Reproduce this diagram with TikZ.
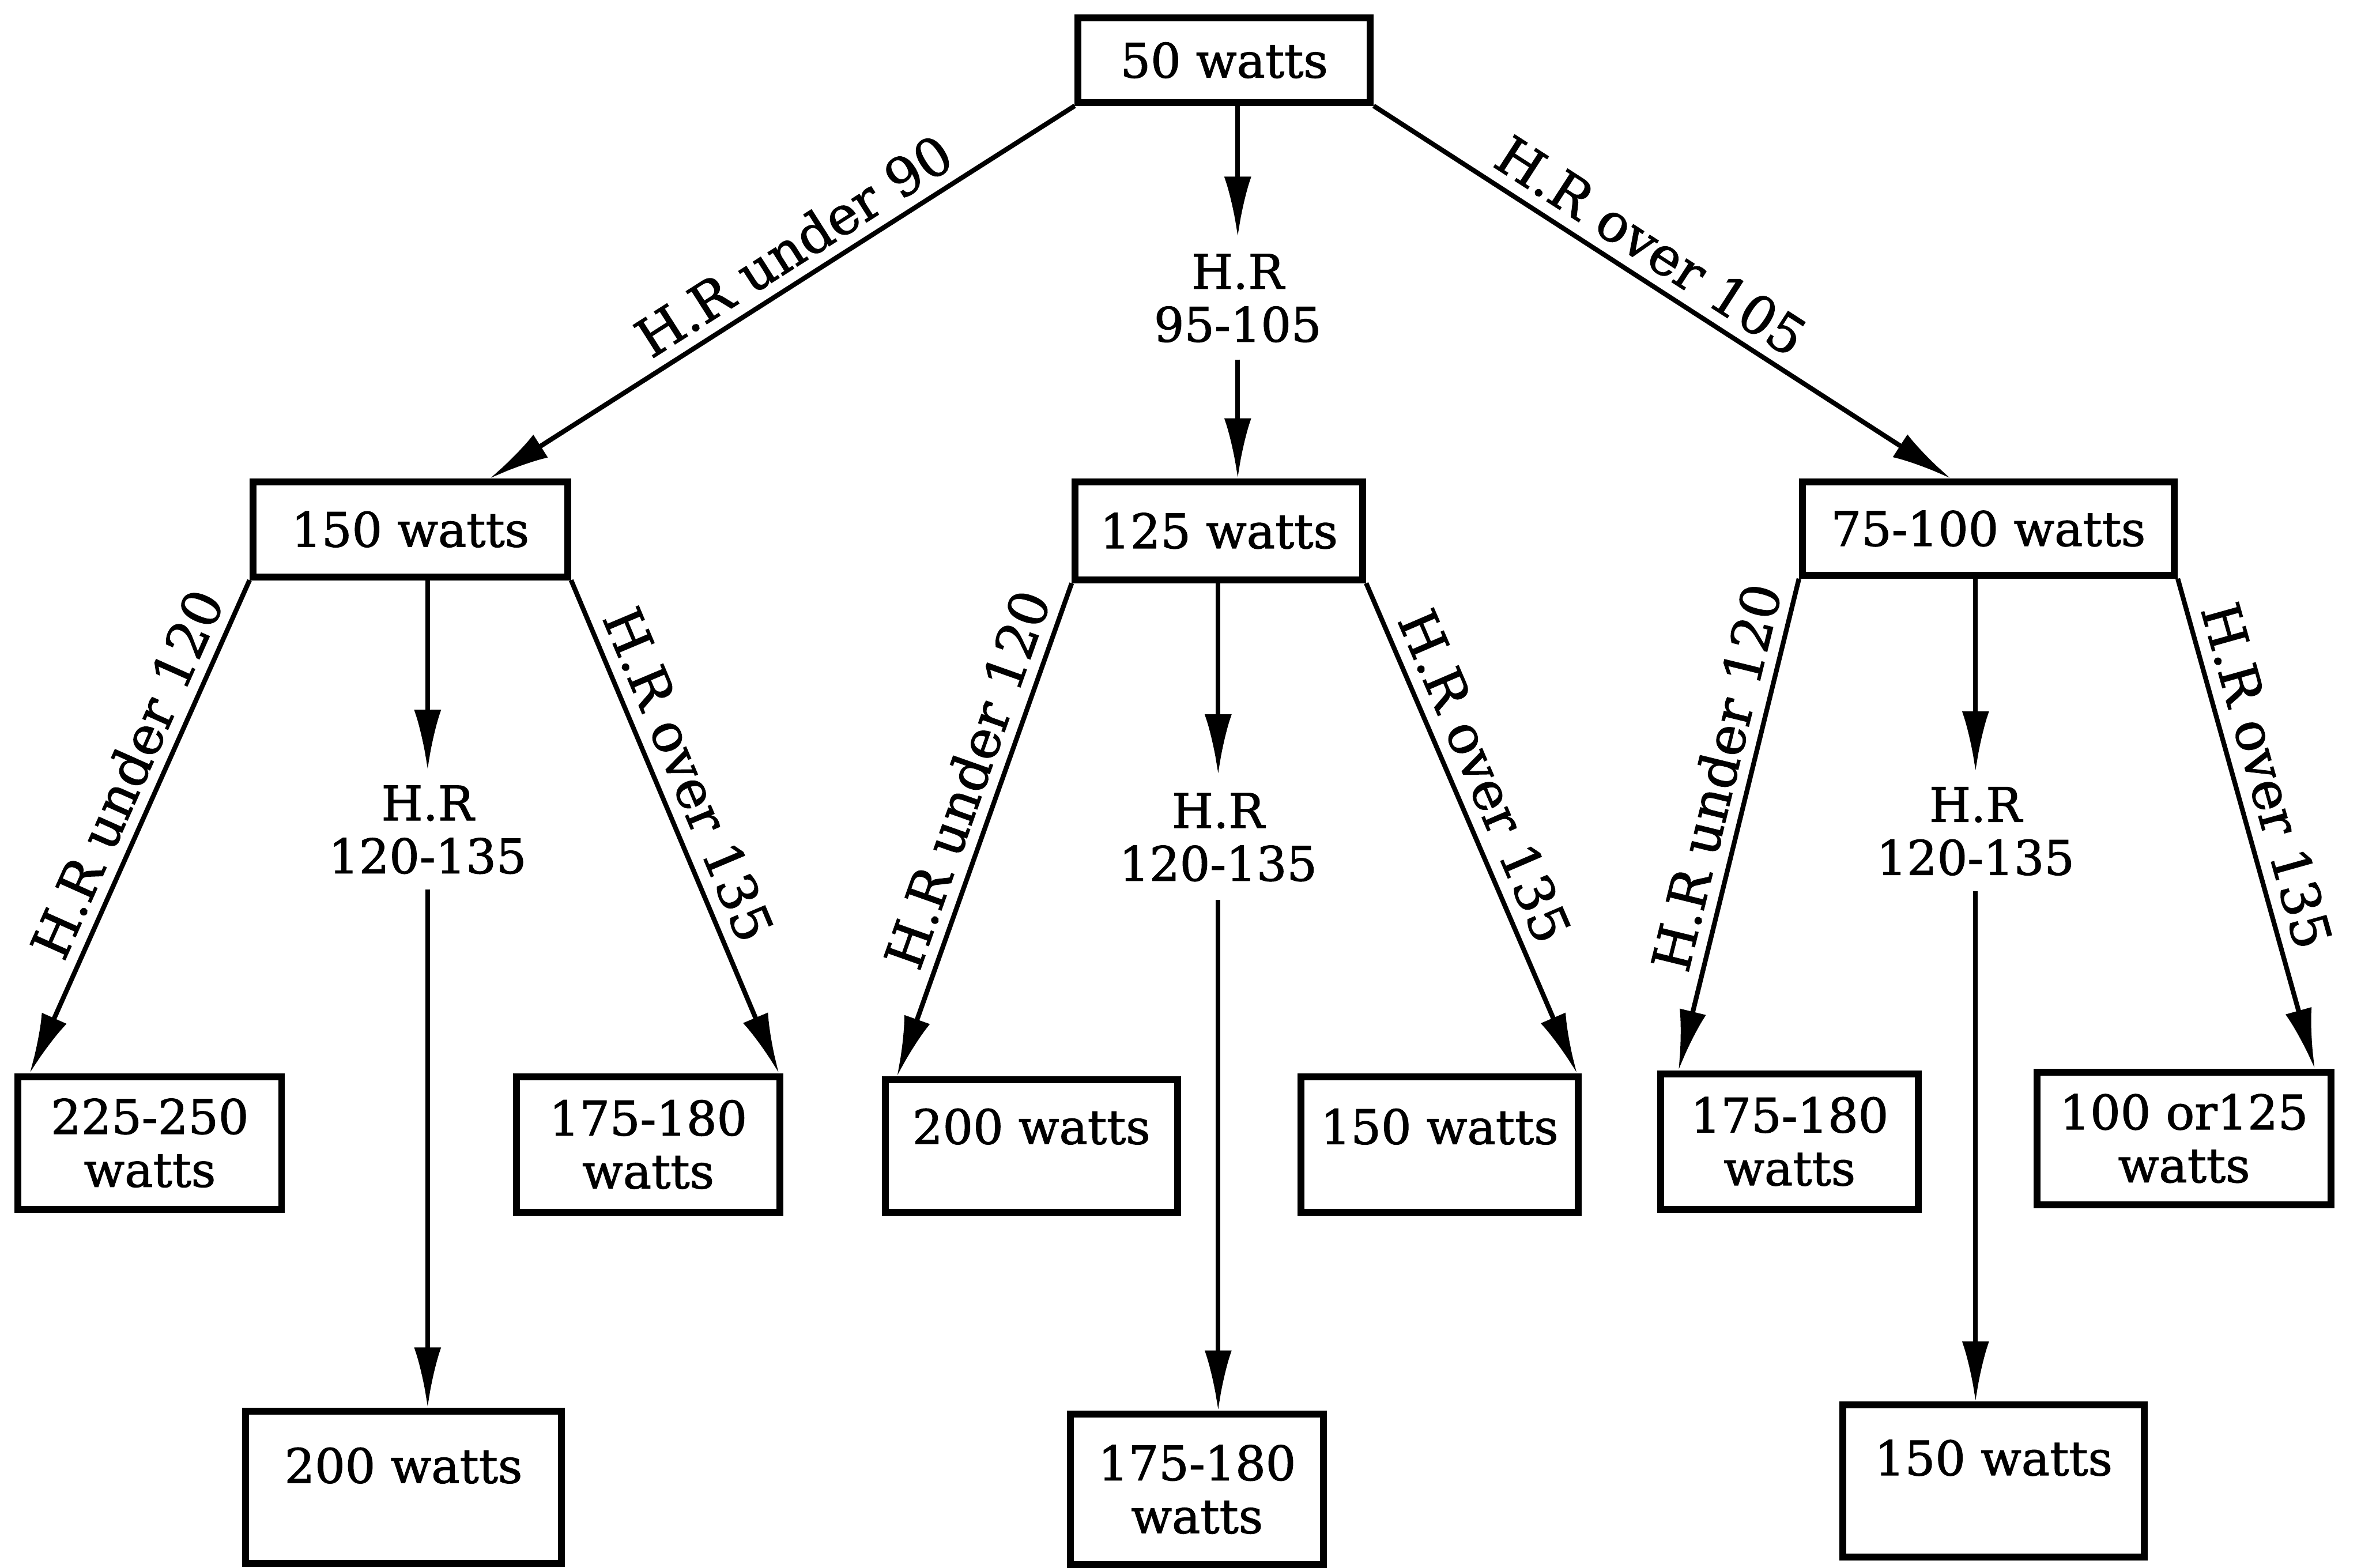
\documentclass[tikz,border=0pt]{standalone}
\usepackage{fontspec}
\setmainfont{DejaVu Serif}
\newfontfamily\heavyfont{DejaVu Serif}[FakeBold=1.4]
\usetikzlibrary{arrows.meta}
\tikzset{
  wbox/.style={draw, line width=1.3pt, align=center, inner sep=0pt, font=\heavyfont\fontsize{9}{10}\selectfont},
  bsize/.style 2 args={minimum width=#1cm, minimum height=#2cm},
  lift/.style={text height=6.6pt, text depth=#1},
  hrlab/.style={align=center, inner sep=0pt, font=\heavyfont\fontsize{9}{10}\selectfont},
  arr/.style={line width=0.9pt, -{Latex[length=4mm,width=1.8mm]}},
  slab/.style={sloped, above, pos=0.42, inner sep=2pt, font=\heavyfont\fontsize{10}{11}\selectfont}
}
\begin{document}
\begin{tikzpicture}
\useasboundingbox (0,0) rectangle (15.68,-10.41);
\node[wbox, bsize={1.94}{0.56}] (root) at (8.13,-0.40) {50 watts};
\node[wbox, bsize={2.09}{0.63}] (w150) at (2.725,-3.515) {150 watts};
\node[wbox, bsize={1.91}{0.65}] (w125) at (8.095,-3.525) {125 watts};
\node[wbox, bsize={2.47}{0.62}] (w75) at (13.205,-3.51) {75-100 watts};
\node[wbox, bsize={1.75}{0.88}] (w225) at (0.995,-7.59) {225-250\\watts};
\node[wbox, bsize={1.75}{0.90}] (w175a) at (4.305,-7.60) {175-180\\watts};
\node[wbox, bsize={1.94}{0.88}, lift=7.4pt] (w200a) at (6.85,-7.61) {200 watts};
\node[wbox, bsize={1.84}{0.90}, lift=6.8pt] (w150b) at (9.56,-7.60) {150 watts};
\node[wbox, bsize={1.71}{0.90}] (w175b) at (11.885,-7.58) {175-180\\watts};
\node[wbox, bsize={1.95}{0.88}] (w100) at (14.505,-7.56) {100 or125\\watts};
\node[wbox, bsize={2.10}{1.01}, lift=8.2pt] (w200b) at (2.68,-9.875) {200 watts};
\node[wbox, bsize={1.68}{1.00}] (w175c) at (7.95,-9.89) {175-180\\watts};
\node[wbox, bsize={2.00}{1.01}, lift=8.8pt] (w150c) at (13.24,-9.835) {150 watts};

\node[hrlab, minimum height=0.80cm] (hr1) at (8.22,-1.98) {H.R\\95-105};
\node[hrlab, minimum height=0.78cm] (hr2) at (2.84,-5.51) {H.R\\120-135};
\node[hrlab, minimum height=0.82cm] (hr3) at (8.09,-5.56) {H.R\\120-135};
\node[hrlab, minimum height=0.78cm] (hr4) at (13.12,-5.52) {H.R\\120-135};

\draw[arr] (hr1 |- root.south) -- (hr1.north);
\draw[arr] (hr1.south) -- (hr1 |- w125.north);
\draw[arr] (hr2 |- w150.south) -- (hr2.north);
\draw[arr] (hr2.south) -- (hr2 |- w200b.north);
\draw[arr] (hr3 |- w125.south) -- (hr3.north);
\draw[arr] (hr3.south) -- (hr3 |- w175c.north);
\draw[arr] (hr4 |- w75.south) -- (hr4.north);
\draw[arr] (hr4.south) -- (hr4 |- w150c.north);

\draw[arr] (root.south west) -- node[slab, pos=0.45] (l90) {H.R under 90} ([xshift=-5.4mm]w150.north east);
\draw[arr] (root.south east) -- node[slab, pos=0.45] (l105) {H.R over 105} ([xshift=-2.5mm]w75.north);
\draw[arr] (w150.south west) -- node[slab] (la1) {H.R under 120} ([xshift=1mm]w225.north west);
\draw[arr] (w150.south east) -- node[slab] (la2) {H.R over 135} ([xshift=-0.3mm]w175a.north east);
\draw[arr] (w125.south west) -- node[slab] (lb1) {H.R under 120} ([xshift=1mm]w200a.north west);
\draw[arr] (w125.south east) -- node[slab] (lb2) {H.R over 135} ([xshift=-0.3mm]w150b.north east);
\draw[arr] (w75.south west) -- node[slab] (lc1) {H.R under 120} ([xshift=1.4mm]w175b.north west);
\draw[arr] (w75.south east) -- node[slab] (lc2) {H.R over 135} ([xshift=-1.3mm]w100.north east);
\end{tikzpicture}
\end{document}
